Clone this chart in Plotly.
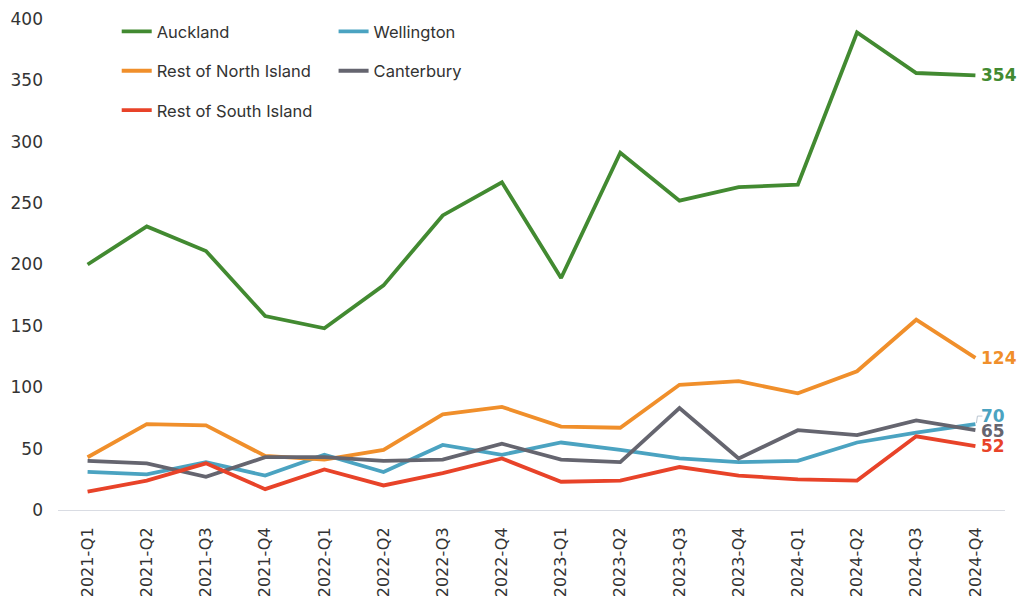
import plotly.graph_objects as go

quarters = ["2021-Q1", "2021-Q2", "2021-Q3", "2021-Q4",
            "2022-Q1", "2022-Q2", "2022-Q3", "2022-Q4",
            "2023-Q1", "2023-Q2", "2023-Q3", "2023-Q4",
            "2024-Q1", "2024-Q2", "2024-Q3", "2024-Q4"]

auckland = [200, 231, 211, 158, 148, 183, 240, 267, 189, 291, 252, 263, 265, 389, 356, 354]
wellington = [31, 29, 39, 28, 45, 31, 53, 45, 55, 49, 42, 39, 40, 55, 63, 70]
rest_north = [43, 70, 69, 44, 41, 49, 78, 84, 68, 67, 102, 105, 95, 113, 155, 124]
canterbury = [40, 38, 27, 43, 43, 40, 41, 54, 41, 39, 83, 42, 65, 61, 73, 65]
rest_south = [15, 24, 38, 17, 33, 20, 30, 42, 23, 24, 35, 28, 25, 24, 60, 52]

y_ticks = [0, 50, 100, 150, 200, 250, 300, 350, 400]

series = [
    ("Auckland", auckland, "#428a31", "legend", 0),
    ("Wellington", wellington, "#4ba3c1", "legend2", 8),
    ("Rest of North Island", rest_north, "#f08f2b", "legend", 0),
    ("Canterbury", canterbury, "#65656f", "legend2", -1),
    ("Rest of South Island", rest_south, "#e84329", "legend", 0),
]

fig = go.Figure()
for name, vals, color, leg, _ in series:
    fig.add_trace(go.Scatter(
        x=quarters, y=vals, name=name, mode="lines",
        line=dict(color=color, width=3.8),
        legend=leg, legendgroup=name,
        cliponaxis=False,
    ))

for name, vals, color, leg, ysh in series:
    fig.add_annotation(
        x=quarters[-1], y=vals[-1], text=str(vals[-1]),
        showarrow=False, xanchor="left", yanchor="middle",
        xshift=5, yshift=ysh, borderpad=0,
        font=dict(family="DejaVu Sans", size=17, color=color, weight="bold"),
    )

# small leader line for Wellington label
fig.add_shape(
    type="path", xref="x", yref="y",
    xsizemode="pixel", ysizemode="pixel",
    xanchor=len(quarters) - 1, yanchor=wellington[-1],
    path="M 1 1 L 2 8 L 7 8",
    line=dict(color="#b8c4d0", width=1),
)

legend_common = dict(
    yanchor="top", xanchor="left", orientation="v", tracegroupgap=15,
    font=dict(family="Inter", size=16.5, color="#333333"),
    bgcolor="rgba(0,0,0,0)", itemwidth=30,
)

fig.update_layout(
    width=1025, height=596,
    margin=dict(l=58, r=20, t=19, b=86),
    plot_bgcolor="white", paper_bgcolor="white",
    font=dict(family="DejaVu Sans", color="#333333"),
    legend=dict(x=0.062, y=1.01, **legend_common),
    legend2=dict(x=0.291, y=1.01, **legend_common),
    xaxis=dict(
        type="category", range=[-0.5, len(quarters) - 0.5],
        tickangle=-90, showgrid=False, zeroline=False, automargin=False,
        showline=True, linecolor="#d9dce3", linewidth=1,
        ticks="", ticklabelstandoff=10,
        tickfont=dict(family="DejaVu Sans", size=16, color="#333333"),
    ),
    yaxis=dict(
        range=[0, 400], tickvals=y_ticks, showgrid=False, zeroline=False,
        showline=False, ticks="", ticklabelstandoff=14, automargin=False,
        tickfont=dict(family="DejaVu Sans", size=17, color="#333333"),
    ),
)

fig.write_html(
    "out.html",
    config={"displayModeBar": False},
    post_script="document.body.style.margin='0';document.body.style.overflow='hidden';",
)
